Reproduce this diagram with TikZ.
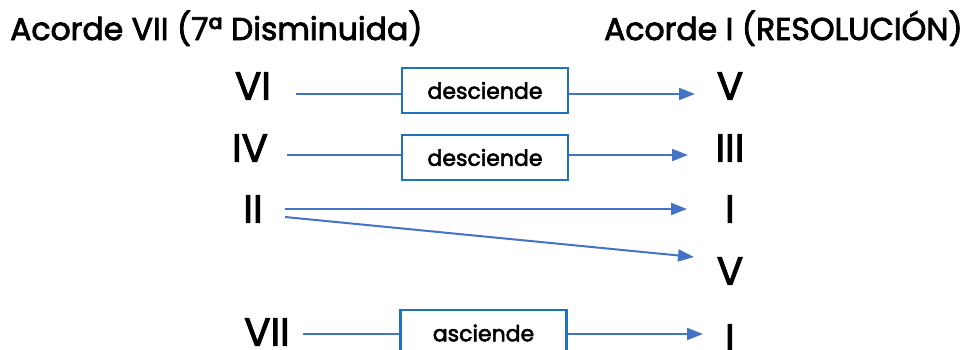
\documentclass[tikz,border=0pt]{standalone}
\usepackage{fontspec}
\setmainfont{Poppins}
\newfontfamily\medfont[FakeBold=2.5]{Poppins}
\usetikzlibrary{arrows.meta}
\definecolor{lineblue}{HTML}{4472C4}
\definecolor{boxblue}{HTML}{1F72BE}
\begin{document}
\begin{tikzpicture}[x=1pt,y=-1pt,
  title/.style={font=\medfont\fontsize{31.5}{36}\selectfont, inner sep=0pt, anchor=base west},
  numeral/.style={font=\medfont\fontsize{39}{46}\selectfont, inner sep=0pt},
  conn/.style={draw=lineblue, line width=2pt},
  arr/.style={conn, -{Triangle[length=16pt,width=12pt]}},
  stepbox/.style={draw=boxblue, line width=2.5pt, fill=white, minimum width=166pt, minimum height=45pt, inner sep=0pt, font=\medfont\fontsize{22}{26}\selectfont}]
\useasboundingbox (0,0) rectangle (969,349);
% titles
\node[title] (t1) at (10,40) {Acorde VII (7ª Disminuida)};
\node[title, anchor=base east] (t2) at (963,40) {Acorde I (RESOLUCIÓN)};
% left numerals
\node[numeral] (l1) at (253,86) {VI};
\node[numeral] (l2) at (250,148) {IV};
\node[numeral] (l3) at (253,209) {II};
\node[numeral] (l5) at (267,332) {VII};
% right numerals
\node[numeral] (r1) at (730,86) {V};
\node[numeral] (r2) at (730,148) {III};
\node[numeral] (r3) at (730,209) {I};
\node[numeral] (r4) at (730,271) {V};
\node[numeral] (r5) at (730,338) {I};
% connectors
\coordinate (a1s) at (296,94); \coordinate (a1e) at (695,94);
\coordinate (a2s) at (287,155); \coordinate (a2e) at (688,155);
\coordinate (a3s) at (285,209); \coordinate (a3e) at (687,209);
\coordinate (a4s) at (285,217); \coordinate (a4e) at (694,257);
\coordinate (a5s) at (303,334); \coordinate (a5e) at (703,334);
\draw[arr] (a1s) -- (a1e);
\draw[arr] (a2s) -- (a2e);
\draw[arr] (a3s) -- (a3e);
\draw[arr] (a4s) -- (a4e);
\draw[arr] (a5s) -- (a5e);
% boxes
\node[stepbox] (b1) at (485,90.5) {desciende};
\node[stepbox] (b2) at (485,157.5) {desciende};
\node[stepbox, minimum height=46pt] (b5) at (483.5,333) {asciende};
\end{tikzpicture}
\end{document}
